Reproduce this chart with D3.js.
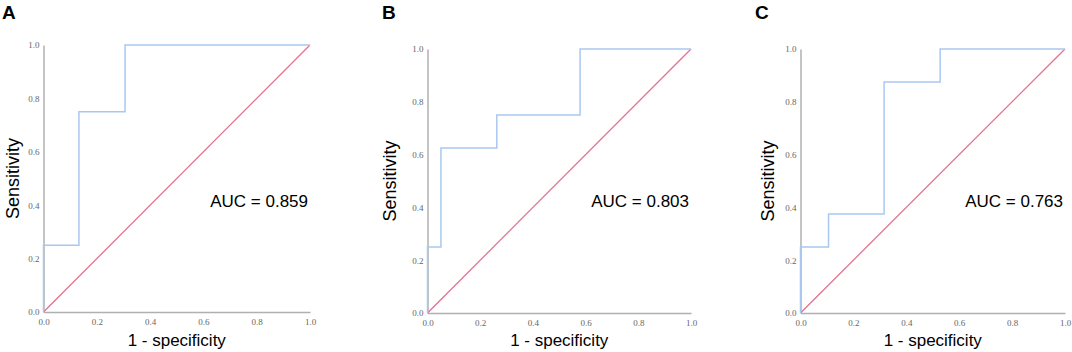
<!DOCTYPE html>
<html>
<head>
<meta charset="utf-8">
<script src="https://cdn.jsdelivr.net/npm/d3@7"></script>
<style>
  body { margin: 0; background: #fff; }
  svg { display: block; }
</style>
</head>
<body>
<div id="chart"></div>
<script>
// ROC step curves (1 - specificity, sensitivity)
const panelLabels = ['A', 'B', 'C'];
const aucLabels = ['AUC = 0.859', 'AUC = 0.803', 'AUC = 0.763'];

const fprA = [0, 0, 0.133, 0.133, 0.306, 0.306, 1];
const tprA = [0, 0.25, 0.25, 0.75, 0.75, 1, 1];

const fprB = [0, 0, 0.051, 0.051, 0.263, 0.263, 0.579, 0.579, 1];
const tprB = [0, 0.25, 0.25, 0.625, 0.625, 0.75, 0.75, 1, 1];

const fprC = [0, 0, 0.106, 0.106, 0.316, 0.316, 0.528, 0.528, 1];
const tprC = [0, 0.25, 0.25, 0.375, 0.375, 0.875, 0.875, 1, 1];

const tickValues = [0, 0.2, 0.4, 0.6, 0.8, 1.0];

const curves = [[fprA, tprA], [fprB, tprB], [fprC, tprC]];

// plot boxes in page pixels
const boxes = [
    { left: 43.5, right: 310, top: 45, bottom: 312, letterX: 2, ylabX: 13 },
    { left: 427.5, right: 691, top: 49, bottom: 313, letterX: 382, ylabX: 390 },
    { left: 800.5, right: 1065, top: 49, bottom: 313, letterX: 755, ylabX: 768 }
];

const svg = d3.select('#chart')
    .append('svg')
    .attr('width', 1072)
    .attr('height', 352);

boxes.forEach((b, i) => {
    const x = d3.scaleLinear().domain([0, 1]).range([b.left, b.right]);
    const y = d3.scaleLinear().domain([0, 1]).range([b.bottom, b.top]);
    const g = svg.append('g');

    // Panel letter
    g.append('text')
        .attr('x', b.letterX)
        .attr('y', 19)
        .style('font-family', 'Liberation Sans, Arial, sans-serif')
        .style('font-weight', 'bold')
        .style('font-size', '19px')
        .text(panelLabels[i]);

    // Axes
    const fmt = d3.format('.1f');
    const xAxis = g.append('g')
        .attr('transform', `translate(0,${b.bottom})`)
        .call(d3.axisBottom(x).tickValues(tickValues).tickFormat(fmt).tickSize(0).tickPadding(7));
    const yAxis = g.append('g')
        .attr('transform', `translate(${b.left},0)`)
        .call(d3.axisLeft(y).tickValues(tickValues).tickFormat(fmt).tickSize(0).tickPadding(4));

    [xAxis, yAxis].forEach(ax => {
        ax.select('.domain').attr('stroke', '#b0b0b0').attr('stroke-width', 1.5);
        ax.selectAll('text')
            .style('font-family', 'Liberation Serif, DejaVu Serif, serif')
            .style('font-size', '9px')
            .attr('fill', '#666');
    });

    // Reference diagonal
    g.append('line')
        .attr('x1', x(0)).attr('y1', y(0))
        .attr('x2', x(1)).attr('y2', y(1))
        .attr('stroke', '#e8708c')
        .attr('stroke-width', 1.3);

    // ROC curve
    const [fpr, tpr] = curves[i];
    const pts = fpr.map((f, k) => [f, tpr[k]]);
    g.append('path')
        .datum(pts)
        .attr('fill', 'none')
        .attr('stroke', '#a9c8f0')
        .attr('stroke-width', 1.5)
        .attr('d', d3.line().x(d => x(d[0])).y(d => y(d[1])));

    // AUC label
    g.append('text')
        .attr('x', b.right - 2)
        .attr('y', 207)
        .attr('text-anchor', 'end')
        .style('font-family', 'Liberation Sans, Arial, sans-serif')
        .style('font-size', '17px')
        .text(aucLabels[i]);

    // Axis titles
    g.append('text')
        .attr('x', (b.left + b.right) / 2)
        .attr('y', 346)
        .attr('text-anchor', 'middle')
        .style('font-family', 'Liberation Sans, Arial, sans-serif')
        .style('font-size', '17px')
        .text('1 - specificity');

    g.append('text')
        .attr('transform', `translate(${b.ylabX + 6},${(b.top + b.bottom) / 2}) rotate(-90)`)
        .attr('text-anchor', 'middle')
        .style('font-family', 'Liberation Sans, Arial, sans-serif')
        .style('font-size', '18px')
        .text('Sensitivity');
});
</script>
</body>
</html>
